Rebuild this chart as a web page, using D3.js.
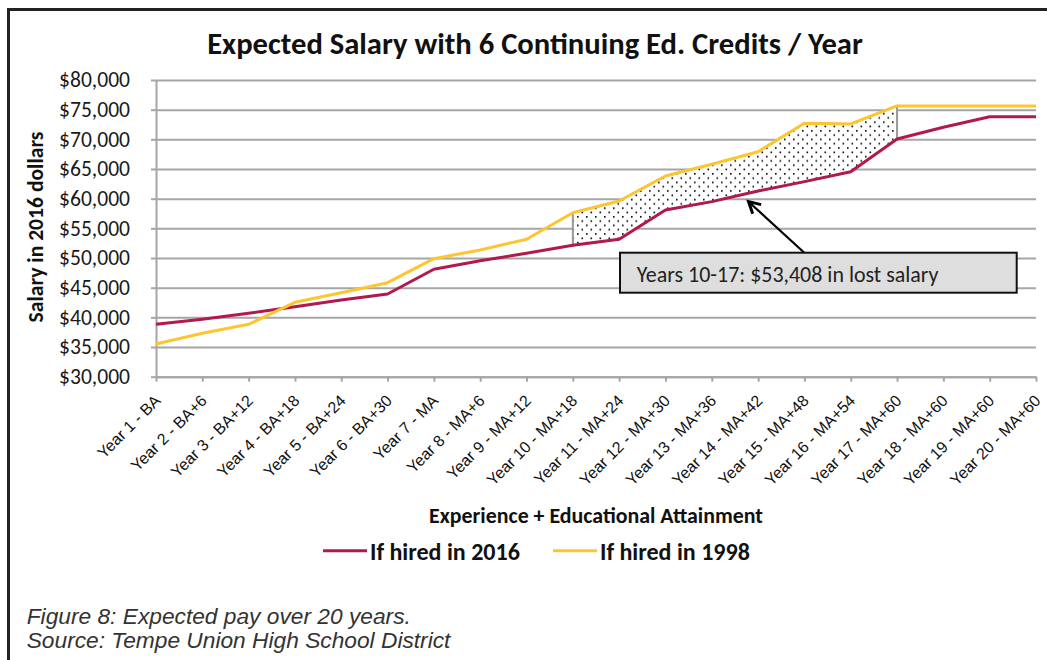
<!DOCTYPE html>
<html><head><meta charset="utf-8">
<script src="https://cdn.jsdelivr.net/npm/d3@7"></script>
<style>body{margin:0;background:#fff}</style>
</head><body><svg id="c" width="1047" height="660"></svg>
<script>
const categories = ["Year 1 - BA","Year 2 - BA+6","Year 3 - BA+12","Year 4 - BA+18","Year 5 - BA+24","Year 6 - BA+30","Year 7 - MA","Year 8 - MA+6","Year 9 - MA+12","Year 10 - MA+18","Year 11 - MA+24","Year 12 - MA+30","Year 13 - MA+36","Year 14 - MA+42","Year 15 - MA+48","Year 16 - MA+54","Year 17 - MA+60","Year 18 - MA+60","Year 19 - MA+60","Year 20 - MA+60"];
const hired2016 = [38830,39680,40690,41800,42930,43940,48100,49550,50800,52150,53160,58100,59500,61300,62870,64550,70060,72040,73820,73820];
const hired1998 = [35510,37310,38830,42540,44160,45840,49890,51360,53160,57640,59610,63830,65800,67920,72710,72600,75630,75630,75630,75630];
const yTicks = [30000,35000,40000,45000,50000,55000,60000,65000,70000,75000,80000];
const seriesNames = ["If hired in 2016","If hired in 1998"];
const shadedFrom = 9, shadedTo = 16; // Year 10 .. Year 17
const titleText = "Expected Salary with 6 Continuing Ed. Credits / Year";
const yTitle = "Salary in 2016 dollars";
const xTitle = "Experience + Educational Attainment";
const annotationText = "Years 10-17: $53,408 in lost salary";
const captionLines = ["Figure 8: Expected pay over 20 years.","Source: Tempe Union High School District"];

const RED = "#b2194f", YEL = "#fdc52f", GRID = "#a6a6a6";
const calibri = "Carlito, Calibri, Lato, sans-serif";
const svg = d3.select("#c");

function fit(sel, w){
  const l = sel.node().getComputedTextLength();
  const fs = parseFloat(sel.attr("font-size"));
  sel.attr("font-size", fs * w / l);
  return sel;
}

const x = d3.scalePoint().domain(categories).range([156, 1036]);
const y = d3.scaleLinear().domain([30000, 80000]).range([376.7, 80]);

// frame (top and left)
svg.append("path").attr("d","M8.5,660 L8.5,9.5 L1047,9.5").attr("fill","none").attr("stroke","#222").attr("stroke-width",3);

// pattern
const defs = svg.append("defs");
const pat = defs.append("pattern").attr("id","dots").attr("patternUnits","userSpaceOnUse").attr("width",9).attr("height",8.6);
pat.append("rect").attr("width",9).attr("height",8.6).attr("fill","#fff");
pat.append("rect").attr("x",1).attr("y",1).attr("width",1.6).attr("height",1.6).attr("fill","#000");
pat.append("rect").attr("x",5.5).attr("y",5.3).attr("width",1.6).attr("height",1.6).attr("fill","#000");

// gridlines
svg.append("g").attr("transform","translate(156,0)")
  .call(d3.axisLeft(y).tickValues(yTicks).tickSize(-880).tickFormat(""))
  .call(g => g.select(".domain").remove())
  .call(g => g.selectAll("line").attr("stroke",GRID).attr("stroke-width",2));

// y axis
const ya = svg.append("g").attr("transform","translate(156,0)")
  .call(d3.axisLeft(y).tickValues(yTicks).tickSize(5).tickSizeOuter(0).tickPadding(21)
        .tickFormat(d => "$" + d3.format(",")(d)));
ya.select(".domain").attr("stroke",GRID).attr("stroke-width",2);
ya.selectAll("line").attr("stroke",GRID).attr("stroke-width",2);
ya.selectAll("text").attr("font-family",calibri).attr("font-size",19).attr("fill","#1a1a1a");
ya.selectAll("text").each(function(){ fit(d3.select(this), 71); });

// x axis
const xa = svg.append("g").attr("transform","translate(0,376.7)")
  .call(d3.axisBottom(x).tickSize(5).tickSizeOuter(0));
xa.select(".domain").attr("stroke",GRID).attr("stroke-width",2);
xa.selectAll("line").attr("stroke",GRID).attr("stroke-width",2);
xa.selectAll("text").attr("font-family","Liberation Sans, Arial, sans-serif").attr("font-size",16)
  .attr("fill","#111").attr("x",0).attr("y",0).attr("dy",0).attr("text-anchor","end")
  .attr("transform","translate(5,25) rotate(-45)");

// shaded area
const idx = d3.range(shadedFrom, shadedTo + 1);
const area = d3.area().x(i => x(categories[i])).y0(i => y(hired2016[i])).y1(i => y(hired1998[i]));
svg.append("path").attr("d", area(idx) ).attr("fill","url(#dots)").attr("stroke","#999").attr("stroke-width",2);

// lines
const line = d3.line().x((d,i) => x(categories[i])).y(d => y(d));
svg.append("path").attr("d", line(hired2016)).attr("fill","none").attr("stroke",RED).attr("stroke-width",3).attr("stroke-linejoin","round");
svg.append("path").attr("d", line(hired1998)).attr("fill","none").attr("stroke",YEL).attr("stroke-width",3).attr("stroke-linejoin","round");

// annotation arrow
const tail = [804.3, 252.7], tip = [748.5, 201.5];
svg.append("line").attr("x1",tail[0]).attr("y1",tail[1]).attr("x2",tip[0]+2).attr("y2",tip[1]+2)
  .attr("stroke","#000").attr("stroke-width",2.2);
const ang = Math.atan2(tail[1]-tip[1], tail[0]-tip[0]);
const hl = 13, ha = 0.5;
svg.append("path")
  .attr("d", `M${tip[0]+hl*Math.cos(ang-ha)},${tip[1]+hl*Math.sin(ang-ha)} L${tip[0]},${tip[1]} L${tip[0]+hl*Math.cos(ang+ha)},${tip[1]+hl*Math.sin(ang+ha)}`)
  .attr("fill","none").attr("stroke","#000").attr("stroke-width",3).attr("stroke-linejoin","miter");

// annotation box
svg.append("rect").attr("x",620).attr("y",252.7).attr("width",396.7).attr("height",40)
  .attr("fill","#dedede").attr("stroke","#111").attr("stroke-width",2);
fit(svg.append("text").attr("x",636.7).attr("y",282.3).attr("font-family",calibri).attr("font-size",19)
  .attr("fill","#222").text(annotationText), 302);

// title
fit(svg.append("text").attr("x",535).attr("y",54.3).attr("text-anchor","middle").attr("font-family",calibri)
  .attr("font-weight","bold").attr("font-size",26).attr("fill","#111").text(titleText), 656);

// y title
fit(svg.append("text").attr("transform","translate(43.3,227) rotate(-90)").attr("text-anchor","middle")
  .attr("font-family",calibri).attr("font-weight","bold").attr("font-size",18).attr("fill","#111").text(yTitle), 191);

// x title
fit(svg.append("text").attr("x",596).attr("y",522.7).attr("text-anchor","middle").attr("font-family",calibri)
  .attr("font-weight","bold").attr("font-size",17).attr("fill","#111").text(xTitle), 334);

// legend
const leg = [{name:seriesNames[0], color:RED, x:323}, {name:seriesNames[1], color:YEL, x:553}];
leg.forEach(l => {
  svg.append("line").attr("x1",l.x).attr("x2",l.x+44).attr("y1",550.7).attr("y2",550.7).attr("stroke",l.color).attr("stroke-width",3);
  fit(svg.append("text").attr("x",l.x+47).attr("y",560).attr("font-family",calibri).attr("font-weight","bold")
    .attr("font-size",22).attr("fill","#111").text(l.name), 150);
});

// caption: one text block with two lines
const cap = svg.append("text").attr("x",26.7).attr("y",623.5)
  .attr("font-family","'Liberation Sans', Arial, sans-serif").attr("font-style","italic")
  .attr("font-size",20).attr("fill","#333");
const spans = captionLines.map((t,i) => cap.append("tspan").attr("x",26.7).attr("dy", i ? 24 : 0).text(t));
const l2 = spans[1].node().getComputedTextLength();
cap.attr("font-size", 20 * 437 / l2 * 0.97);
</script></body></html>
